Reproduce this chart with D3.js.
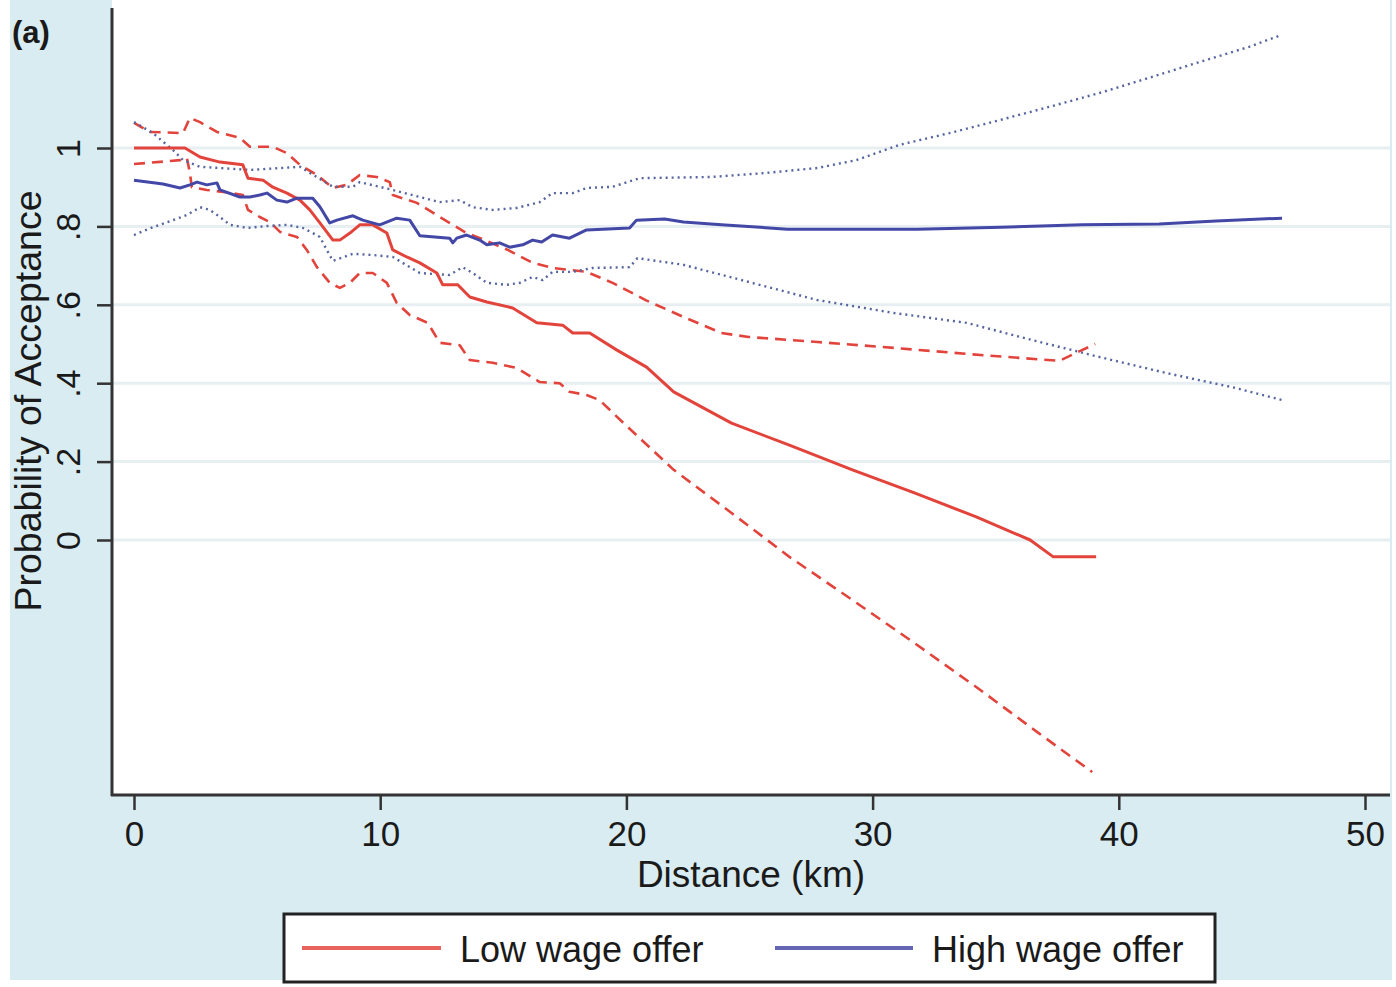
<!DOCTYPE html>
<html>
<head>
<meta charset="utf-8">
<script src="https://cdn.jsdelivr.net/npm/d3@7"></script>
<style>
  html, body { margin: 0; padding: 0; background: #ffffff; }
  svg { display: block; }
  text { font-family: "Liberation Sans", Arial, Helvetica, sans-serif; fill: #1a1a1a; }
</style>
</head>
<body>
<script>
// ---------- DATA ----------
const xTicks = [0, 10, 20, 30, 40, 50];
const yTicks = [0, 0.2, 0.4, 0.6, 0.8, 1];
const yTickLabels = ["0", ".2", ".4", ".6", ".8", "1"];
const seriesNames = ["Low wage offer", "High wage offer"];

// Low wage offer: estimate and confidence band (distance km, probability)
const lowEst = [
  [0,1.0],[2.07,1.0],[2.68,0.977],[3.49,0.964],[4.42,0.957],[4.63,0.923],[5.24,0.918],
  [5.64,0.90],[6.21,0.885],[6.74,0.867],[7.14,0.842],[7.55,0.809],[8.08,0.765],[8.36,0.765],
  [8.77,0.783],[9.17,0.804],[9.70,0.804],[10.27,0.783],[10.51,0.74],[11.08,0.722],[11.61,0.707],
  [12.30,0.681],[12.54,0.651],[13.15,0.651],[13.64,0.62],[14.33,0.607],[15.38,0.592],[16.36,0.554],
  [17.41,0.548],[17.82,0.528],[18.51,0.528],[19.6,0.485],[20.82,0.441],[21.92,0.378],[24.27,0.298],
  [26.62,0.242],[29.18,0.179],[31.7,0.12],[34.21,0.059],[36.4,0.0],[37.34,-0.043],[39.08,-0.043]
];
const lowUpper = [
  [0,1.064],[0.65,1.041],[1.99,1.038],[2.27,1.077],[2.68,1.066],[3.37,1.041],[4.30,1.026],
  [4.71,1.003],[5.64,1.003],[6.21,0.987],[6.74,0.957],[7.43,0.931],[8.08,0.898],[8.64,0.906],
  [9.17,0.931],[9.86,0.926],[10.39,0.913],[10.51,0.880],[11.49,0.860],[12.42,0.824],[13.51,0.783],
  [14.25,0.765],[15.18,0.740],[16.19,0.707],[17.0,0.694],[18.38,0.684],[19.44,0.656],[20.78,0.612],
  [22.32,0.569],[23.86,0.528],[24.96,0.518],[27.76,0.505],[30.88,0.49],[33.97,0.474],[37.58,0.457],
  [38.35,0.48],[39.04,0.50]
];
const lowLower = [
  [0,0.959],[1.87,0.969],[2.15,0.974],[2.27,0.936],[2.35,0.90],[2.96,0.893],[4.02,0.885],
  [4.42,0.880],[4.63,0.842],[5.11,0.824],[5.52,0.811],[5.93,0.786],[6.62,0.773],[7.02,0.740],
  [7.43,0.696],[7.95,0.656],[8.36,0.643],[8.77,0.656],[9.17,0.681],[9.70,0.681],[10.27,0.656],
  [10.67,0.605],[11.2,0.574],[11.93,0.554],[12.42,0.503],[13.23,0.497],[13.64,0.459],[14.57,0.452],
  [15.54,0.439],[16.48,0.403],[17.29,0.40],[17.69,0.378],[18.38,0.37],[18.91,0.357],[19.89,0.298],
  [21.92,0.179],[24.27,0.069],[26.62,-0.043],[29.18,-0.153],[31.7,-0.263],[34.21,-0.375],
  [36.73,-0.492],[38.92,-0.592]
];

// High wage offer: estimate and confidence band
const highEst = [
  [0,0.918],[1.18,0.908],[1.87,0.898],[2.27,0.906],[2.56,0.913],[2.96,0.906],[3.37,0.911],
  [3.49,0.893],[4.30,0.875],[4.71,0.875],[5.11,0.880],[5.40,0.885],[5.80,0.867],[6.21,0.862],
  [6.62,0.872],[7.26,0.872],[7.55,0.850],[7.95,0.809],[8.24,0.816],[8.89,0.827],[9.29,0.816],
  [9.98,0.804],[10.67,0.821],[11.2,0.816],[11.61,0.776],[12.82,0.770],[12.95,0.758],[13.11,0.770],
  [13.51,0.778],[14.04,0.765],[14.33,0.753],[14.85,0.758],[15.26,0.747],[15.79,0.753],[16.19,0.765],
  [16.56,0.760],[17.0,0.778],[17.69,0.770],[18.38,0.791],[20.13,0.796],[20.41,0.816],[21.55,0.819],
  [22.32,0.811],[23.86,0.804],[26.54,0.793],[31.82,0.793],[35.23,0.798],[38.51,0.804],[41.64,0.806],
  [43.95,0.814],[46.63,0.821]
];
const highUpper = [
  [0,1.066],[0.77,1.038],[1.58,0.995],[1.99,0.969],[2.68,0.952],[4.71,0.944],[6.74,0.952],
  [8.08,0.901],[8.89,0.901],[9.17,0.913],[10.51,0.893],[11.61,0.875],[12.42,0.862],[13.23,0.867],
  [13.76,0.849],[14.57,0.842],[15.54,0.847],[16.48,0.862],[17.0,0.885],[17.82,0.885],[18.38,0.898],
  [19.44,0.901],[20.54,0.923],[23.42,0.926],[25.61,0.936],[27.76,0.949],[29.34,0.969],[31.09,1.008],
  [33.12,1.038],[35.15,1.071],[37.18,1.105],[39.20,1.140],[41.23,1.179],[43.26,1.219],[45.29,1.258],
  [46.59,1.288]
];
const highLower = [
  [0,0.778],[0.77,0.798],[1.58,0.816],[2.15,0.829],[2.68,0.849],[3.08,0.842],[3.49,0.824],
  [3.90,0.804],[4.59,0.796],[5.40,0.801],[6.21,0.804],[6.86,0.796],[7.26,0.783],[7.55,0.773],
  [7.83,0.740],[8.08,0.712],[8.89,0.730],[9.70,0.727],[10.51,0.722],[11.61,0.681],[12.82,0.676],
  [13.35,0.696],[13.76,0.681],[14.33,0.656],[15.14,0.651],[15.67,0.656],[16.19,0.671],[16.6,0.663],
  [17.0,0.684],[17.82,0.684],[18.63,0.694],[20.13,0.696],[20.45,0.719],[22.32,0.702],[24.68,0.663],
  [27.76,0.612],[30.88,0.579],[33.81,0.554],[36.49,0.510],[39.20,0.467],[41.92,0.426],[44.60,0.390],
  [46.63,0.357]
];

// ---------- LAYOUT ----------
const W = 1396, H = 987;
const RED = "#e2443c", BLUE = "#4347a6", DOT = "#56659f";
const frame = { left: 112, right: 1390, top: 8, bottom: 795 };

const svg = d3.select("body").append("svg").attr("width", W).attr("height", H);

// outer background
svg.append("rect").attr("x", 0).attr("y", 0).attr("width", W).attr("height", H).attr("fill", "#ffffff");
svg.append("rect").attr("x", 10).attr("y", 0).attr("width", 1382).attr("height", 980).attr("fill", "#d9ecf1");

// plot region
svg.append("rect")
  .attr("x", frame.left).attr("y", 0)
  .attr("width", frame.right - frame.left).attr("height", frame.bottom)
  .attr("fill", "#ffffff");

const x = d3.scaleLinear().domain([0, 50]).range([134, 1365]);
const y = d3.scaleLinear().domain([0, 1]).range([540, 148]);

// gridlines
svg.append("g").selectAll("line").data(yTicks).join("line")
  .attr("x1", frame.left).attr("x2", frame.right)
  .attr("y1", d => y(d)).attr("y2", d => y(d))
  .attr("stroke", "#e7eff2").attr("stroke-width", 3);

// series
const line = d3.line().x(d => x(d[0])).y(d => y(d[1]));
const series = [
  { data: lowUpper, color: RED, width: 2.6, dash: "11,7" },
  { data: lowLower, color: RED, width: 2.6, dash: "11,7" },
  { data: highUpper, color: DOT, width: 2.4, dash: "2,4" },
  { data: highLower, color: DOT, width: 2.4, dash: "2,4" },
  { data: lowEst, color: RED, width: 3, dash: null },
  { data: highEst, color: BLUE, width: 3, dash: null }
];
svg.append("g").selectAll("path").data(series).join("path")
  .attr("d", d => line(d.data))
  .attr("fill", "none")
  .attr("stroke", d => d.color)
  .attr("stroke-width", d => d.width)
  .attr("stroke-dasharray", d => d.dash)
  .attr("stroke-linejoin", "round");

// y axis
const yAxis = d3.axisLeft(y).tickValues(yTicks).tickSize(15).tickFormat((d, i) => yTickLabels[i]);
const gy = svg.append("g").attr("transform", `translate(${frame.left},0)`).call(yAxis);
gy.select(".domain").remove();
gy.selectAll(".tick line").attr("stroke", "#333").attr("stroke-width", 2.5);
gy.selectAll(".tick text")
  .attr("x", 0).attr("dy", null)
  .attr("transform", "translate(-44,0) rotate(-90)")
  .attr("text-anchor", "middle")
  .attr("dominant-baseline", "central")
  .style("font-size", "34px").style("fill", "#1a1a1a");
svg.append("line")
  .attr("x1", frame.left).attr("x2", frame.left)
  .attr("y1", frame.top).attr("y2", frame.bottom + 1)
  .attr("stroke", "#333").attr("stroke-width", 3);

// x axis
const xAxis = d3.axisBottom(x).tickValues(xTicks).tickSize(15).tickPadding(11);
const gx = svg.append("g").attr("transform", `translate(0,${frame.bottom})`).call(xAxis);
gx.select(".domain").remove();
gx.selectAll(".tick line").attr("stroke", "#333").attr("stroke-width", 2.5);
gx.selectAll(".tick text").style("font-size", "35px").style("fill", "#1a1a1a");
svg.append("line")
  .attr("x1", frame.left - 1).attr("x2", frame.right)
  .attr("y1", frame.bottom).attr("y2", frame.bottom)
  .attr("stroke", "#333").attr("stroke-width", 3);

// axis titles
svg.append("text").attr("x", 751).attr("y", 887).attr("text-anchor", "middle")
  .style("font-size", "37px").text("Distance (km)");
svg.append("text").attr("transform", "translate(41,401) rotate(-90)").attr("text-anchor", "middle")
  .style("font-size", "37.5px").text("Probability of Acceptance");

// panel label
svg.append("text").attr("x", 12).attr("y", 43)
  .style("font-size", "31px").style("font-weight", "bold").text("(a)");

// legend
const lg = svg.append("g");
lg.append("rect").attr("x", 284).attr("y", 914).attr("width", 931).attr("height", 68)
  .attr("fill", "#ffffff").attr("stroke", "#222").attr("stroke-width", 3);
const legendItems = [
  { name: seriesNames[0], color: "#e8635c", x0: 302, x1: 441, tx: 460 },
  { name: seriesNames[1], color: "#6465b3", x0: 775, x1: 913, tx: 932 }
];
legendItems.forEach(it => {
  lg.append("line").attr("x1", it.x0).attr("x2", it.x1).attr("y1", 948).attr("y2", 948)
    .attr("stroke", it.color).attr("stroke-width", 4);
  lg.append("text").attr("x", it.tx).attr("y", 962).style("font-size", "36px").text(it.name);
});
</script>
</body>
</html>
